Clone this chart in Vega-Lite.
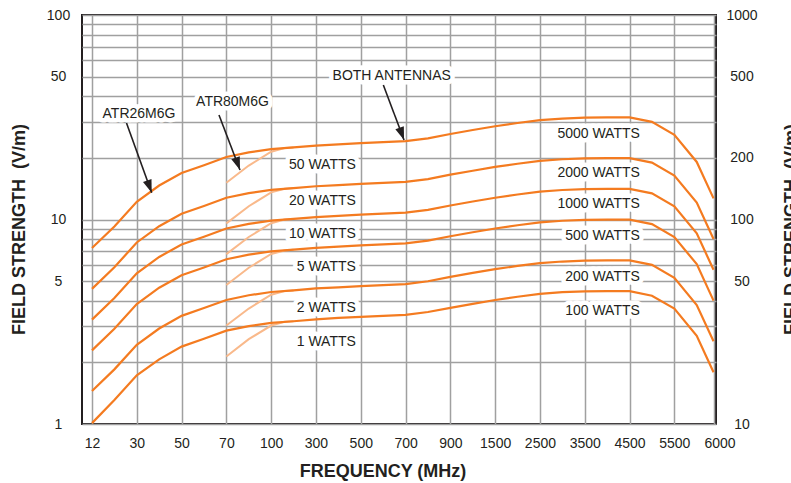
{
  "$schema": "https://vega.github.io/schema/vega-lite/v6.json",
  "width": 634,
  "height": 409,
  "autosize": {"type": "none"},
  "padding": {"left": 82, "top": 15, "right": 75, "bottom": 59},
  "background": "#ffffff",
  "config": {
    "font": "Liberation Sans",
    "view": {"stroke": "#231f20", "strokeWidth": 2},
    "axis": {
      "labelColor": "#231f20", "titleColor": "#231f20",
      "labelFontSize": 14, "titleFontSize": 18, "titleFontWeight": "bold",
      "gridColor": "#a0a0a0", "gridWidth": 1.5, "gridOpacity": 1,
      "ticks": false, "tickSize": 0, "domain": false,
      "labelOverlap": false, "labelFlush": false, "labelBound": false
    }
  },
  "datasets": {
    "curves": [
      {"c":"50","i":0,"v":7.25},{"c":"50","i":0.5,"v":9.24},{"c":"50","i":1,"v":12.2},{"c":"50","i":1.5,"v":14.66},{"c":"50","i":2,"v":16.88},{"c":"50","i":2.5,"v":18.43},{"c":"50","i":3,"v":20.21},{"c":"50","i":3.5,"v":21.28},{"c":"50","i":4,"v":22.09},{"c":"50","i":4.5,"v":22.52},{"c":"50","i":5,"v":22.99},{"c":"50","i":5.5,"v":23.3},{"c":"50","i":6,"v":23.61},{"c":"50","i":6.5,"v":23.88},{"c":"50","i":7,"v":24.15},{"c":"50","i":7.5,"v":24.93},{"c":"50","i":8,"v":26.18},{"c":"50","i":8.5,"v":27.39},{"c":"50","i":9,"v":28.58},{"c":"50","i":9.5,"v":29.63},{"c":"50","i":10,"v":30.61},{"c":"50","i":10.5,"v":31.17},{"c":"50","i":11,"v":31.48},{"c":"50","i":11.5,"v":31.55},{"c":"50","i":12,"v":31.55},{"c":"50","i":12.5,"v":30.01},{"c":"50","i":13,"v":25.94},{"c":"50","i":13.5,"v":19.12},{"c":"50","i":13.875,"v":12.69},
      {"c":"20","i":0,"v":4.58},{"c":"20","i":0.5,"v":5.84},{"c":"20","i":1,"v":7.72},{"c":"20","i":1.5,"v":9.27},{"c":"20","i":2,"v":10.67},{"c":"20","i":2.5,"v":11.65},{"c":"20","i":3,"v":12.78},{"c":"20","i":3.5,"v":13.46},{"c":"20","i":4,"v":13.97},{"c":"20","i":4.5,"v":14.24},{"c":"20","i":5,"v":14.54},{"c":"20","i":5.5,"v":14.74},{"c":"20","i":6,"v":14.93},{"c":"20","i":6.5,"v":15.1},{"c":"20","i":7,"v":15.27},{"c":"20","i":7.5,"v":15.77},{"c":"20","i":8,"v":16.56},{"c":"20","i":8.5,"v":17.32},{"c":"20","i":9,"v":18.07},{"c":"20","i":9.5,"v":18.74},{"c":"20","i":10,"v":19.36},{"c":"20","i":10.5,"v":19.71},{"c":"20","i":11,"v":19.91},{"c":"20","i":11.5,"v":19.95},{"c":"20","i":12,"v":19.95},{"c":"20","i":12.5,"v":18.98},{"c":"20","i":13,"v":16.4},{"c":"20","i":13.5,"v":12.09},{"c":"20","i":13.875,"v":8.03},
      {"c":"10","i":0,"v":3.24},{"c":"10","i":0.5,"v":4.13},{"c":"10","i":1,"v":5.46},{"c":"10","i":1.5,"v":6.56},{"c":"10","i":2,"v":7.55},{"c":"10","i":2.5,"v":8.24},{"c":"10","i":3,"v":9.04},{"c":"10","i":3.5,"v":9.52},{"c":"10","i":4,"v":9.88},{"c":"10","i":4.5,"v":10.07},{"c":"10","i":5,"v":10.28},{"c":"10","i":5.5,"v":10.42},{"c":"10","i":6,"v":10.56},{"c":"10","i":6.5,"v":10.68},{"c":"10","i":7,"v":10.8},{"c":"10","i":7.5,"v":11.15},{"c":"10","i":8,"v":11.71},{"c":"10","i":8.5,"v":12.25},{"c":"10","i":9,"v":12.78},{"c":"10","i":9.5,"v":13.25},{"c":"10","i":10,"v":13.69},{"c":"10","i":10.5,"v":13.94},{"c":"10","i":11,"v":14.08},{"c":"10","i":11.5,"v":14.11},{"c":"10","i":12,"v":14.11},{"c":"10","i":12.5,"v":13.42},{"c":"10","i":13,"v":11.6},{"c":"10","i":13.5,"v":8.55},{"c":"10","i":13.875,"v":5.68},
      {"c":"5","i":0,"v":2.29},{"c":"5","i":0.5,"v":2.92},{"c":"5","i":1,"v":3.86},{"c":"5","i":1.5,"v":4.64},{"c":"5","i":2,"v":5.34},{"c":"5","i":2.5,"v":5.83},{"c":"5","i":3,"v":6.39},{"c":"5","i":3.5,"v":6.73},{"c":"5","i":4,"v":6.98},{"c":"5","i":4.5,"v":7.12},{"c":"5","i":5,"v":7.27},{"c":"5","i":5.5,"v":7.37},{"c":"5","i":6,"v":7.47},{"c":"5","i":6.5,"v":7.55},{"c":"5","i":7,"v":7.64},{"c":"5","i":7.5,"v":7.88},{"c":"5","i":8,"v":8.28},{"c":"5","i":8.5,"v":8.66},{"c":"5","i":9,"v":9.04},{"c":"5","i":9.5,"v":9.37},{"c":"5","i":10,"v":9.68},{"c":"5","i":10.5,"v":9.86},{"c":"5","i":11,"v":9.96},{"c":"5","i":11.5,"v":9.98},{"c":"5","i":12,"v":9.98},{"c":"5","i":12.5,"v":9.49},{"c":"5","i":13,"v":8.2},{"c":"5","i":13.5,"v":6.05},{"c":"5","i":13.875,"v":4.01},
      {"c":"2","i":0,"v":1.45},{"c":"2","i":0.5,"v":1.85},{"c":"2","i":1,"v":2.44},{"c":"2","i":1.5,"v":2.93},{"c":"2","i":2,"v":3.38},{"c":"2","i":2.5,"v":3.69},{"c":"2","i":3,"v":4.04},{"c":"2","i":3.5,"v":4.26},{"c":"2","i":4,"v":4.42},{"c":"2","i":4.5,"v":4.5},{"c":"2","i":5,"v":4.6},{"c":"2","i":5.5,"v":4.66},{"c":"2","i":6,"v":4.72},{"c":"2","i":6.5,"v":4.78},{"c":"2","i":7,"v":4.83},{"c":"2","i":7.5,"v":4.99},{"c":"2","i":8,"v":5.24},{"c":"2","i":8.5,"v":5.48},{"c":"2","i":9,"v":5.72},{"c":"2","i":9.5,"v":5.93},{"c":"2","i":10,"v":6.12},{"c":"2","i":10.5,"v":6.23},{"c":"2","i":11,"v":6.3},{"c":"2","i":11.5,"v":6.31},{"c":"2","i":12,"v":6.31},{"c":"2","i":12.5,"v":6.0},{"c":"2","i":13,"v":5.19},{"c":"2","i":13.5,"v":3.82},{"c":"2","i":13.875,"v":2.54},
      {"c":"1","i":0,"v":1.01},{"c":"1","i":0.5,"v":1.31},{"c":"1","i":1,"v":1.73},{"c":"1","i":1.5,"v":2.07},{"c":"1","i":2,"v":2.39},{"c":"1","i":2.5,"v":2.61},{"c":"1","i":3,"v":2.86},{"c":"1","i":3.5,"v":3.01},{"c":"1","i":4,"v":3.12},{"c":"1","i":4.5,"v":3.18},{"c":"1","i":5,"v":3.25},{"c":"1","i":5.5,"v":3.3},{"c":"1","i":6,"v":3.34},{"c":"1","i":6.5,"v":3.38},{"c":"1","i":7,"v":3.42},{"c":"1","i":7.5,"v":3.53},{"c":"1","i":8,"v":3.7},{"c":"1","i":8.5,"v":3.87},{"c":"1","i":9,"v":4.04},{"c":"1","i":9.5,"v":4.19},{"c":"1","i":10,"v":4.33},{"c":"1","i":10.5,"v":4.41},{"c":"1","i":11,"v":4.45},{"c":"1","i":11.5,"v":4.46},{"c":"1","i":12,"v":4.46},{"c":"1","i":12.5,"v":4.24},{"c":"1","i":13,"v":3.67},{"c":"1","i":13.5,"v":2.7},{"c":"1","i":13.875,"v":1.79}
    ],
    "light": [
      {"c":"50","i":3,"v":15.13},{"c":"50","i":3.5,"v":18.36},{"c":"50","i":4,"v":21.45},{"c":"50","i":4.3,"v":22.34},{"c":"50","i":4.5,"v":22.52},
      {"c":"20","i":3,"v":9.57},{"c":"20","i":3.5,"v":11.61},{"c":"20","i":4,"v":13.57},{"c":"20","i":4.3,"v":14.13},{"c":"20","i":4.5,"v":14.24},
      {"c":"10","i":3,"v":6.77},{"c":"10","i":3.5,"v":8.21},{"c":"10","i":4,"v":9.59},{"c":"10","i":4.3,"v":9.99},{"c":"10","i":4.5,"v":10.07},
      {"c":"5","i":3,"v":4.78},{"c":"5","i":3.5,"v":5.81},{"c":"5","i":4,"v":6.78},{"c":"5","i":4.3,"v":7.06},{"c":"5","i":4.5,"v":7.12},
      {"c":"2","i":3,"v":3.03},{"c":"2","i":3.5,"v":3.67},{"c":"2","i":4,"v":4.29},{"c":"2","i":4.3,"v":4.47},{"c":"2","i":4.5,"v":4.5},
      {"c":"1","i":3,"v":2.14},{"c":"1","i":3.5,"v":2.6},{"c":"1","i":4,"v":3.03},{"c":"1","i":4.3,"v":3.16},{"c":"1","i":4.5,"v":3.18}
    ],
    "leftLabels": [
      {"label":"50 WATTS","i":5.89,"v":18.47},
      {"label":"20 WATTS","i":5.89,"v":12.32},
      {"label":"10 WATTS","i":5.89,"v":8.49},
      {"label":"5 WATTS","i":5.89,"v":5.86},
      {"label":"2 WATTS","i":5.89,"v":3.71},
      {"label":"1 WATTS","i":5.89,"v":2.52}
    ],
    "notes": [
      {"label":"ATR26M6G","i":1.049,"v":32.98},
      {"label":"ATR80M6G","i":3.137,"v":37.34},
      {"label":"BOTH ANTENNAS","i":6.691,"v":50.3}
    ],
    "arrows": [
      {"i":0.77,"v":29.65,"i2":1.333,"v2":13.52},
      {"i":2.835,"v":32.43,"i2":3.304,"v2":17.47},
      {"i":6.504,"v":45.47,"i2":6.966,"v2":24.48}
    ],
    "rightLabels": [
      {"label":"5000 WATTS","i":12.23,"vr":263.3},
      {"label":"2000 WATTS","i":12.23,"vr":167.9},
      {"label":"1000 WATTS","i":12.23,"vr":119.7},
      {"label":"500 WATTS","i":12.23,"vr":82.6},
      {"label":"200 WATTS","i":12.23,"vr":52.3},
      {"label":"100 WATTS","i":12.23,"vr":35.5}
    ]
  },
  "layer": [
    {
      "layer": [
        {
          "data": {"name": "leftLabels"},
          "mark": {"type": "text", "align": "right", "baseline": "middle", "fontSize": 14, "fill": "#ffffff", "stroke": "#ffffff", "strokeWidth": 9, "strokeJoin": "round"},
          "encoding": {
            "x": {"field": "i", "type": "quantitative",
              "scale": {"domain": [-0.223, 13.93], "nice": false, "zero": false},
              "axis": {
                "title": "FREQUENCY (MHz)",
                "values": [0,0.5,1,1.5,2,2.5,3,3.5,4,4.5,5,5.5,6,6.5,7,7.5,8,8.5,9,9.5,10,10.5,11,11.5,12,12.5,13,13.5,13.875],
                "labelExpr": "datum.value == 13.875 ? '6000' : (datum.value % 1 == 0 ? ['12','30','50','70','100','300','500','700','900','1500','2500','3500','4500','5500'][datum.value] : '')",
                "labelOffset": {"condition": {"test": "datum.value == 13.875", "value": 6}, "value": 0},
                "grid": true, "labelPadding": 12, "labelBaseline": "top",
                "titleX": 300.5, "titleY": 52, "titleAlign": "center", "titleBaseline": "alphabetic"
              }
            },
            "y": {"field": "v", "type": "quantitative",
              "scale": {"type": "log", "domain": [1, 100], "nice": false},
              "axis": {
                "title": "FIELD STRENGTH\u00a0 (V/m)",
                "values": [1,2,3,4,5,6,7,8,9,10,20,30,40,50,60,70,80,90,100],
                "labelExpr": "indexof([1,5,10,50,100], datum.value) >= 0 ? format(datum.value, 'd') : ''",
                "grid": true, "labelAlign": "center", "labelBaseline": "middle", "labelPadding": 24,
                "titleAngle": 270, "titleX": -58, "titleY": 214, "titleAlign": "center", "titleBaseline": "alphabetic"
              }
            },
            "text": {"field": "label"}
          }
        },
        {
          "data": {"name": "notes"},
          "mark": {"type": "text", "align": "center", "baseline": "middle", "fontSize": 14, "fill": "#ffffff", "stroke": "#ffffff", "strokeWidth": 9, "strokeJoin": "round"},
          "encoding": {
            "x": {"field": "i", "type": "quantitative"},
            "y": {"field": "v", "type": "quantitative"},
            "text": {"field": "label"}
          }
        },
        {
          "data": {"name": "light"},
          "mark": {"type": "line", "color": "#F9B98B", "strokeWidth": 2},
          "encoding": {
            "x": {"field": "i", "type": "quantitative"},
            "y": {"field": "v", "type": "quantitative"},
            "detail": {"field": "c"}
          }
        },
        {
          "data": {"name": "curves"},
          "mark": {"type": "line", "color": "#F47B20", "strokeWidth": 2.2},
          "encoding": {
            "x": {"field": "i", "type": "quantitative"},
            "y": {"field": "v", "type": "quantitative"},
            "detail": {"field": "c"}
          }
        },
        {
          "data": {"name": "arrows"},
          "mark": {"type": "rule", "color": "#231f20", "strokeWidth": 1.6},
          "encoding": {
            "x": {"field": "i", "type": "quantitative"},
            "y": {"field": "v", "type": "quantitative"},
            "x2": {"field": "i2"},
            "y2": {"field": "v2"}
          }
        },
        {
          "data": {"name": "arrows"},
          "mark": {"type": "point", "shape": "M0,0L-0.45,-1.3L0.45,-1.3Z", "filled": true, "color": "#231f20", "opacity": 1, "size": 400, "angle": 340},
          "encoding": {
            "x": {"field": "i2", "type": "quantitative"},
            "y": {"field": "v2", "type": "quantitative"}
          }
        },
        {
          "data": {"name": "leftLabels"},
          "mark": {"type": "text", "align": "right", "baseline": "middle", "fontSize": 14, "color": "#231f20"},
          "encoding": {
            "x": {"field": "i", "type": "quantitative"},
            "y": {"field": "v", "type": "quantitative"},
            "text": {"field": "label"}
          }
        },
        {
          "data": {"name": "notes"},
          "mark": {"type": "text", "align": "center", "baseline": "middle", "fontSize": 14, "color": "#231f20"},
          "encoding": {
            "x": {"field": "i", "type": "quantitative"},
            "y": {"field": "v", "type": "quantitative"},
            "text": {"field": "label"}
          }
        }
      ]
    },
    {
      "data": {"name": "rightLabels"},
      "layer": [
        {
          "mark": {"type": "text", "align": "right", "baseline": "middle", "fontSize": 14, "fill": "#ffffff", "stroke": "#ffffff", "strokeWidth": 9, "strokeJoin": "round"},
          "encoding": {
            "x": {"field": "i", "type": "quantitative"},
            "y": {"field": "vr", "type": "quantitative",
              "scale": {"type": "log", "domain": [10, 1000], "nice": false},
              "axis": {
                "orient": "right",
                "title": "FIELD STRENGTH\u00a0 (V/m)",
                "values": [10, 50, 100, 200, 500, 1000],
                "labelExpr": "format(datum.value, 'd')",
                "grid": false, "labelAlign": "center", "labelBaseline": "middle", "labelPadding": 25.5,
                "titleAngle": 270, "titleX": 80, "titleY": 214, "titleAlign": "center", "titleBaseline": "alphabetic"
              }
            },
            "text": {"field": "label"}
          }
        },
        {
          "mark": {"type": "text", "align": "right", "baseline": "middle", "fontSize": 14, "color": "#231f20"},
          "encoding": {
            "x": {"field": "i", "type": "quantitative"},
            "y": {"field": "vr", "type": "quantitative"},
            "text": {"field": "label"}
          }
        }
      ]
    }
  ],
  "resolve": {"scale": {"y": "independent"}}
}
